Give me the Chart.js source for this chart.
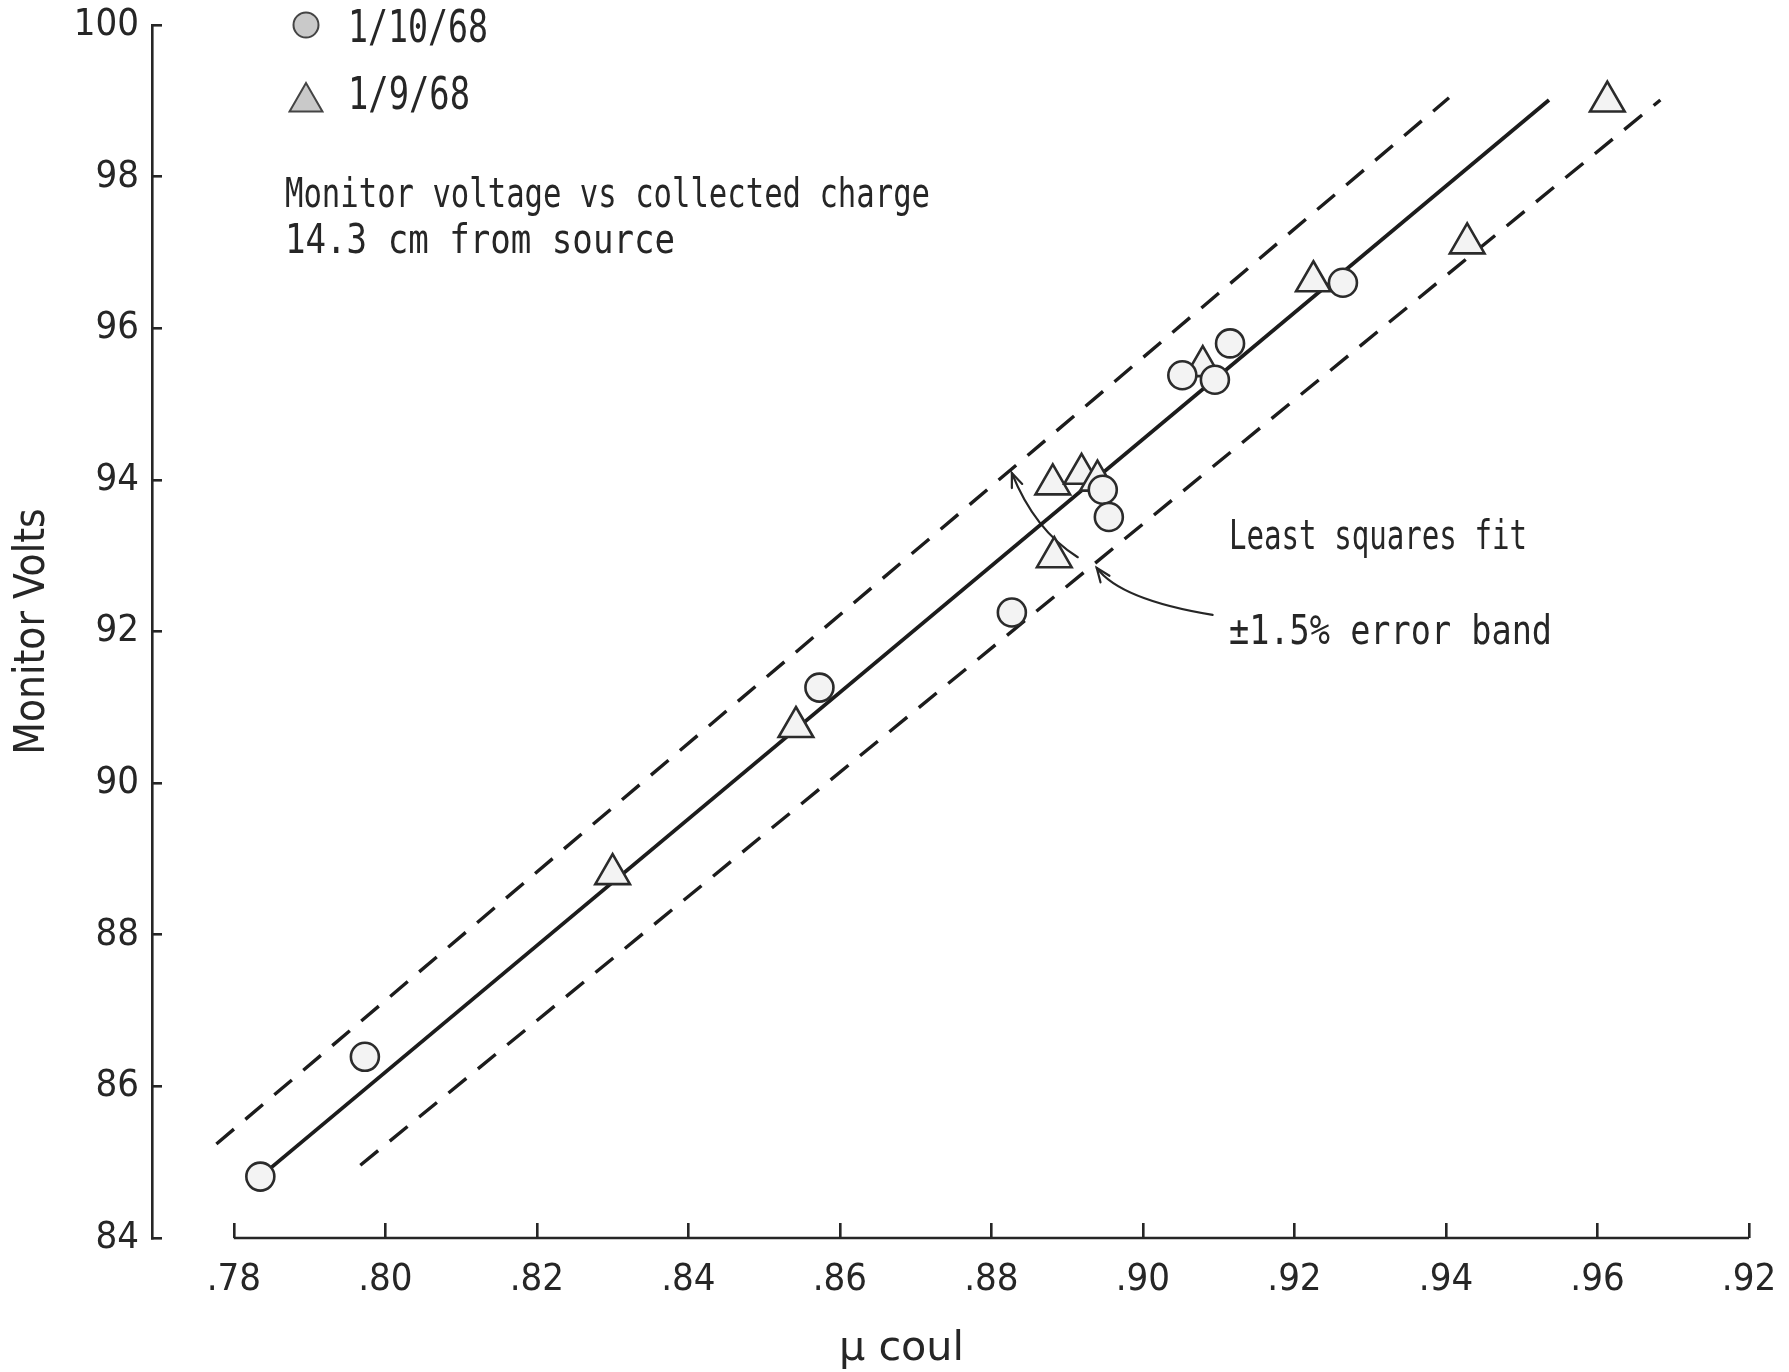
<!DOCTYPE html>
<html><head><meta charset="utf-8">
<script src="https://cdn.jsdelivr.net/npm/chart.js@4/dist/chart.umd.min.js"></script>
<style>html,body{margin:0;padding:0;background:#fff;}#wrap{width:1789px;height:1372px;}</style>
</head><body><div id="wrap"><canvas id="c" width="1789" height="1372"></canvas></div>
<script>
// ---- data ----
const seriesLabels = ["1/10/68", "1/9/68"];
const circleX = [0.7835, 0.7973, 0.8573, 0.8827, 0.8947, 0.8955, 0.9052, 0.9095, 0.9115, 0.9264];
const circleY = [84.81, 86.39, 91.26, 92.25, 93.87, 93.51, 95.38, 95.32, 95.80, 96.60];
const triX = [0.8300, 0.8542, 0.8881, 0.8883, 0.8919, 0.8940, 0.9079, 0.9225, 0.9428, 0.9613];
const triY = [88.80, 90.74, 93.94, 92.98, 94.08, 93.99, 95.50, 96.62, 97.12, 98.99];
const fitX = [0.7835, 0.9536];
const fitY = [84.81, 99.01];
const upperX = [0.7777, 0.9404];
const upperY = [85.24, 99.04];
const lowerX = [0.7967, 0.9683];
const lowerY = [84.96, 99.01];
const xTickValues = [0.78, 0.80, 0.82, 0.84, 0.86, 0.88, 0.90, 0.92, 0.94, 0.96, 0.98];
const xTickLabels = [".78", ".80", ".82", ".84", ".86", ".88", ".90", ".92", ".94", ".96", ".92"];
const yTickValues = [84, 86, 88, 90, 92, 94, 96, 98, 100];
const yTickLabels = ["84", "86", "88", "90", "92", "94", "96", "98", "100"];
const xTitle = "\u00b5 coul";
const yTitle = "Monitor Volts";
const noteLines = ["Monitor voltage vs collected charge", "14.3 cm from source"];
const fitLabel = "Least squares fit";
const bandLabel = "\u00b11.5% error band";
// annotation arrows in data units: [startX,startY, ctrlX,ctrlY, endX,endY]
const arrowFit = [0.8914, 92.98, 0.8857, 93.34, 0.8827, 94.09];
const arrowBand = [0.9092, 92.22, 0.8970, 92.42, 0.8939, 92.84];

const pts = (xs, ys) => xs.map((x, i) => ({x, y: ys[i]}));

function hasFont(name) {
  const c = document.createElement('canvas').getContext('2d');
  const s = 'abcdefghijklmnopqrstuvwxyz0123456789MW';
  for (const fb of ['monospace', 'serif', 'sans-serif']) {
    c.font = '40px ' + fb; const w0 = c.measureText(s).width;
    c.font = '40px "' + name + '", ' + fb; const w1 = c.measureText(s).width;
    if (Math.abs(w0 - w1) > 0.5) return true;
  }
  return false;
}
const narrow = ['Liberation Sans Narrow', 'DejaVu Sans Condensed', 'Liberation Sans'].find(hasFont) || 'sans-serif';
const mono = ['DejaVu Sans Mono', 'Liberation Mono'].find(hasFont) || 'monospace';
const INK = '#262626';

function fitText(ctx, text, x, y, w, font) {
  ctx.save();
  ctx.font = font;
  ctx.textBaseline = 'middle';
  ctx.textAlign = 'left';
  const m = ctx.measureText(text).width;
  ctx.translate(x, y);
  ctx.scale(w / m, 1);
  ctx.fillStyle = INK;
  ctx.fillText(text, 0, 0);
  ctx.restore();
}

function drawArrow(chart, a) {
  const xs = chart.scales.x, ys = chart.scales.y, ctx = chart.ctx;
  const p = [xs.getPixelForValue(a[0]), ys.getPixelForValue(a[1]), xs.getPixelForValue(a[2]), ys.getPixelForValue(a[3]), xs.getPixelForValue(a[4]), ys.getPixelForValue(a[5])];
  ctx.save();
  ctx.strokeStyle = INK; ctx.lineWidth = 2.2; ctx.lineCap = 'round';
  ctx.beginPath(); ctx.moveTo(p[0], p[1]); ctx.quadraticCurveTo(p[2], p[3], p[4], p[5]); ctx.stroke();
  const ang = Math.atan2(p[5] - p[3], p[4] - p[2]);
  const L = 15, sp = 0.38;
  ctx.beginPath();
  ctx.moveTo(p[4] - L * Math.cos(ang - sp), p[5] - L * Math.sin(ang - sp));
  ctx.lineTo(p[4], p[5]);
  ctx.lineTo(p[4] - L * Math.cos(ang + sp), p[5] - L * Math.sin(ang + sp));
  ctx.stroke();
  ctx.restore();
}

const annot = {
  id: 'annot',
  beforeDatasetsDraw(chart) {
    const ctx = chart.ctx, xs = chart.scales.x, ys = chart.scales.y;
    const yb = ys.getPixelForValue(yTickValues[0]);
    ctx.save();
    ctx.strokeStyle = INK; ctx.lineWidth = 2.6;
    ctx.beginPath();
    ctx.moveTo(xs.getPixelForValue(xTickValues[0]), yb);
    ctx.lineTo(xs.getPixelForValue(xTickValues[xTickValues.length - 1]), yb);
    ctx.stroke();
    ctx.restore();
    drawArrow(chart, arrowFit);
    drawArrow(chart, arrowBand);
  },
  afterDraw(chart) {
    const ctx = chart.ctx;
    const d0 = chart.data.datasets[0], d1 = chart.data.datasets[1];
    ctx.save();
    ctx.fillStyle = '#c9c9c9'; ctx.strokeStyle = '#444'; ctx.lineWidth = 2;
    ctx.beginPath(); ctx.arc(306, 25, 12.5, 0, Math.PI * 2); ctx.fill(); ctx.stroke();
    const r = 19, cx = 306, cy = 102;
    ctx.beginPath();
    ctx.moveTo(cx, cy - r);
    ctx.lineTo(cx + r * 0.866, cy + r / 2);
    ctx.lineTo(cx - r * 0.866, cy + r / 2);
    ctx.closePath(); ctx.fill(); ctx.stroke();
    ctx.restore();
    fitText(ctx, d0.label, 348, 31, 140, '44px "' + mono + '"');
    fitText(ctx, d1.label, 348, 98, 122, '44px "' + mono + '"');
    fitText(ctx, noteLines[0], 285, 197, 645, '40px "' + mono + '"');
    fitText(ctx, noteLines[1], 285, 243, 390, '40px "' + mono + '"');
    fitText(ctx, fitLabel, 1229, 539, 298, '40px "' + mono + '"');
    fitText(ctx, bandLabel, 1229, 634, 323, '40px "' + mono + '"');
    fitText(ctx, xTitle, 839, 1350, 125, '40px "' + narrow + '"');
  }
};

const chart = new Chart(document.getElementById('c'), {
  type: 'scatter',
  data: {
    datasets: [
      { label: seriesLabels[0], data: pts(circleX, circleY), order: 1,
        pointStyle: 'circle', pointRadius: 14, pointBackgroundColor: '#f3f3f3', pointBorderColor: '#2b2b2b', pointBorderWidth: 2.6, showLine: false },
      { label: seriesLabels[1], data: pts(triX, triY), order: 1,
        pointStyle: 'triangle', pointRadius: 20, pointBackgroundColor: '#f3f3f3', pointBorderColor: '#2b2b2b', pointBorderWidth: 2.6, showLine: false },
      { label: 'fit', type: 'line', data: pts(fitX, fitY), order: 3,
        borderColor: '#1c1c1c', borderWidth: 3.8, pointRadius: 0, fill: false },
      { label: 'upper', type: 'line', data: pts(upperX, upperY), order: 3,
        borderColor: '#1c1c1c', borderWidth: 3.4, borderDash: [23, 15], pointRadius: 0, fill: false },
      { label: 'lower', type: 'line', data: pts(lowerX, lowerY), order: 3,
        borderColor: '#1c1c1c', borderWidth: 3.4, borderDash: [23, 15], pointRadius: 0, fill: false }
    ]
  },
  options: {
    responsive: false,
    devicePixelRatio: 1,
    animation: false,
    events: [],
    layout: { padding: { left: 0, top: 25, right: 40, bottom: 0 } },
    plugins: { legend: { display: false }, tooltip: { enabled: false }, title: { display: false } },
    scales: {
      x: {
        type: 'linear', min: 0.7692, max: 0.98,
        afterBuildTicks: s => { s.ticks = xTickValues.map(v => ({ value: v })); },
        afterFit: s => { s.height = 134; s.paddingLeft = 0; s.paddingRight = 0; },
        border: { display: false },
        grid: { display: true, drawOnChartArea: false, drawTicks: true, tickLength: -15, color: INK, lineWidth: 2.6 },
        ticks: { autoSkip: false, maxRotation: 0, padding: 34, color: INK,
          font: { family: narrow, size: 38 },
          callback: (v, i) => xTickLabels[i] }
      },
      y: {
        type: 'linear', min: 84, max: 100,
        afterBuildTicks: s => { s.ticks = yTickValues.map(v => ({ value: v })); },
        afterFit: s => { s.width = 152; s.paddingTop = 0; s.paddingBottom = 0; },
        border: { display: true, color: INK, width: 2.6 },
        grid: { display: true, drawOnChartArea: false, drawTicks: true, tickLength: -10, color: INK, lineWidth: 2.6 },
        ticks: { autoSkip: false, padding: 23, color: INK,
          font: { family: narrow, size: 38 },
          callback: (v, i) => yTickLabels[i] },
        title: { display: true, text: yTitle, color: INK, padding: { top: 12, bottom: 0 },
          font: { family: narrow, size: 42, lineHeight: 1 } }
      }
    }
  },
  plugins: [annot]
});
</script></body></html>
